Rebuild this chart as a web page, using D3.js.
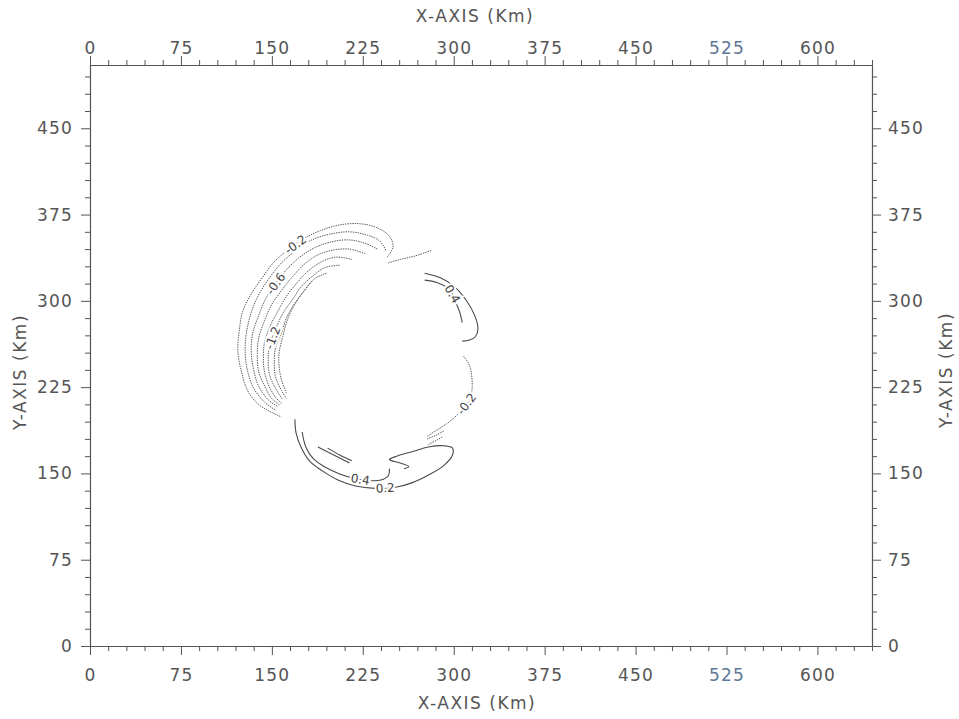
<!DOCTYPE html>
<html>
<head>
<meta charset="utf-8">
<script src="https://cdn.jsdelivr.net/npm/d3@7"></script>
<style>
  html, body { margin: 0; padding: 0; background: #fff; }
  svg { display: block; }
</style>
</head>
<body>
<svg id="chart" width="959" height="719"></svg>
<script>
// ---- model domain (km) and tick labels ----
const xExtent = [0, 645];
const yExtent = [0, 505];
const xMajorTicks = [0, 75, 150, 225, 300, 375, 450, 525, 600];
const yMajorTicks = [0, 75, 150, 225, 300, 375, 450];
const minorStep = 15;
const xTitle = "X-AXIS (Km)";
const yTitle = "Y-AXIS (Km)";

// ---- contour polylines, [x km, y km] ----
// negative field: crescent on the western side of the ring
const negLevels = [-0.2, -0.4, -0.6, -0.8, -1.0, -1.2, -1.4, -1.6];
const negC0 = [[245,338],[250,347],[247,356],[238,363],[223,367],[206,366],[190,361],[176,354],[163,344],[152,334],[142,320],[133,306],[126,291],[123,273],[122,256],[125,238],[130,222],[139,210],[150,203],[158,199]];
const negC1 = [[244,344],[239,352],[229,357],[214,360],[198,358],[183,353],[170,344],[158,333],[148,320],[139,305],[133,290],[129,272],[128,255],[130,239],[135,224],[144,212],[153,205]];
const negC2 = [[237,345],[227,350],[213,353],[198,351],[185,346],[173,338],[162,327],[153,315],[145,302],[139,287],[134,271],[133,255],[135,240],[139,226],[147,214],[155,208]];
const negC3 = [[227,341],[214,345],[200,344],[188,340],[177,332],[167,321],[158,309],[150,297],[144,283],[139,267],[138,253],[139,239],[144,226],[150,215],[157,209]];
const negC4 = [[216,336],[203,338],[191,334],[180,326],[171,316],[162,304],[155,291],[149,279],[144,264],[143,250],[144,238],[148,225],[154,215],[158,211]];
const negC5 = [[206,331],[194,329],[183,321],[174,312],[167,301],[159,289],[153,275],[148,261],[147,249],[148,236],[153,224],[159,214]];
const negC6 = [[195,324],[185,319],[177,309],[169,298],[162,285],[158,272],[153,259],[152,246],[153,234],[158,222],[162,215]];
const negC7 = [[183,317],[176,308],[169,297],[163,284],[159,269],[156,255],[156,243],[158,231],[162,220]];
const negTail = [[246,333],[256,336],[268,339],[282,344]];
// negative field: eastern fragment
const negEast = [[308,252],[313,244],[315,233],[315,222],[313,214],[308,207],[302,200],[294,193],[285,187],[278,182]];
const negEastIn1 = [[278,180],[285,183],[292,187]];
const negEastIn2 = [[279,175],[286,179],[291,182]];

// positive field
const posLevels = [0.2, 0.4, 0.6, 0.8];
const posNEOuter = [[276,324],[289,320],[301,312],[310,301],[317,288],[320,276],[318,269],[313,266],[307,265]];
const posNEInner = [[276,318],[286,316],[294,312],[299,306],[302,298],[305,290],[307,281]];
const posS02 = [[169,197],[170,185],[174,173],[181,161],[192,152],[205,144],[219,139],[235,137],[252,138],[266,142],[280,149],[292,157],[299,166],[299,172],[292,174],[279,173],[266,169],[253,165],[247,162],[256,159],[263,156],[259,154]];
const posS04 = [[175,186],[178,173],[184,163],[193,156],[205,150],[217,146],[229,144],[239,144],[246,148],[247,154]];
const posS06 = [[188,173],[201,166],[214,159]];
const posS08 = [[196,172],[206,166],[216,161]];

// each contour: level, points, and where along the vertices its label sits (null = unlabelled)
const contours = [
  { level: negLevels[0], pts: negC0, labelAt: 7.5 },
  { level: negLevels[1], pts: negC1, labelAt: null },
  { level: negLevels[2], pts: negC2, labelAt: 7 },
  { level: negLevels[3], pts: negC3, labelAt: null },
  { level: negLevels[4], pts: negC4, labelAt: null },
  { level: negLevels[5], pts: negC5, labelAt: 6.5 },
  { level: negLevels[6], pts: negC6, labelAt: null },
  { level: negLevels[7], pts: negC7, labelAt: null },
  { level: negLevels[0], pts: negTail, labelAt: null },
  { level: negLevels[0], pts: negEast, labelAt: 4.5 },
  { level: negLevels[1], pts: negEastIn1, labelAt: null },
  { level: negLevels[2], pts: negEastIn2, labelAt: null },
  { level: posLevels[0], pts: posNEOuter, labelAt: null },
  { level: posLevels[1], pts: posNEInner, labelAt: 3 },
  { level: posLevels[0], pts: posS02, labelAt: 7.5 },
  { level: posLevels[1], pts: posS04, labelAt: 5.5 },
  { level: posLevels[2], pts: posS06, labelAt: null },
  { level: posLevels[3], pts: posS08, labelAt: null }
];

// ---- layout ----
const frame = { left: 90, right: 872, top: 65, bottom: 646 };
const ink = "#555";
const font = "'DejaVu Sans', Verdana, sans-serif";

const svg = d3.select("#chart");
const x = d3.scaleLinear().domain(xExtent).range([frame.left, frame.right]);
const y = d3.scaleLinear().domain(yExtent).range([frame.bottom, frame.top]);

const xMinor = d3.range(xExtent[0], xExtent[1] + 1, minorStep).filter(v => !xMajorTicks.includes(v));
const yMinor = d3.range(yExtent[0], yExtent[1] + 1, minorStep).filter(v => !yMajorTicks.includes(v));

function styleAxis(g, isMajor) {
  g.select(".domain").attr("stroke", "#555").attr("stroke-width", 1.1);
  g.selectAll(".tick line").attr("stroke", "#555").attr("stroke-width", 1);
  g.selectAll(".tick text")
    .attr("fill", d => d === 525 ? "#5d7896" : ink)
    .style("font-family", font)
    .style("font-size", "17px")
    .style("letter-spacing", "1.2px");
  if (!isMajor) g.selectAll(".tick text").remove();
}

const axes = [
  { gen: d3.axisBottom(x), tr: `translate(0,${frame.bottom})`, maj: xMajorTicks, min: xMinor, pad: 14 },
  { gen: d3.axisTop(x),    tr: `translate(0,${frame.top})`,    maj: xMajorTicks, min: xMinor, pad: 2 },
  { gen: d3.axisLeft(y),   tr: `translate(${frame.left},0)`,   maj: yMajorTicks, min: yMinor, pad: 8 },
  { gen: d3.axisRight(y),  tr: `translate(${frame.right},0)`,  maj: yMajorTicks, min: yMinor, pad: 7 }
];
axes.forEach(a => {
  const gMin = svg.append("g").attr("transform", a.tr)
    .call(a.gen.tickValues(a.min).tickSize(5).tickSizeOuter(0).tickFormat(""));
  styleAxis(gMin, false);
  const gMaj = svg.append("g").attr("transform", a.tr)
    .call(a.gen.tickValues(a.maj).tickSize(9).tickSizeOuter(0).tickPadding(a.pad).tickFormat(d3.format("d")));
  styleAxis(gMaj, true);
});

// axis titles
const titleStyle = sel => sel
  .attr("fill", ink)
  .style("font-family", font)
  .style("font-size", "17px")
  .style("letter-spacing", "1.5px")
  .attr("text-anchor", "middle");
svg.append("text").attr("x", 475).attr("y", 22).text(xTitle).call(titleStyle);
svg.append("text").attr("x", 477).attr("y", 709).text(xTitle).call(titleStyle);
svg.append("text").attr("transform", "translate(26,372) rotate(-90)").text(yTitle).call(titleStyle);
svg.append("text").attr("transform", "translate(952,370) rotate(-90)").text(yTitle).call(titleStyle);

// ---- contour lines ----
const line = d3.line()
  .x(d => x(d[0]))
  .y(d => y(d[1]))
  .curve(d3.curveCatmullRom.alpha(0.5));

const gLines = svg.append("g").attr("fill", "none");
contours.forEach(c => {
  const p = gLines.append("path").attr("d", line(c.pts));
  if (c.level < 0) {
    p.attr("stroke", "#5a5a5a").attr("stroke-width", 1).attr("stroke-dasharray", "1.4,1");
  } else {
    p.attr("stroke", "#4a4a4a").attr("stroke-width", 1.1);
  }
});

// contour labels, laid along the line with a white break behind them
const fmt = v => (v < 0 ? "-" : "") + d3.format(".1f")(Math.abs(v));
const gLabels = svg.append("g");
contours.filter(c => c.labelAt !== null).forEach(c => {
  const P = c.pts.map(d => [x(d[0]), y(d[1])]);
  const i = Math.floor(c.labelAt), f = c.labelAt - i;
  let a, b, pos;
  if (f === 0) {
    a = P[Math.max(i - 1, 0)]; b = P[Math.min(i + 1, P.length - 1)]; pos = P[i];
  } else {
    a = P[i]; b = P[i + 1];
    pos = [a[0] + (b[0] - a[0]) * f, a[1] + (b[1] - a[1]) * f];
  }
  let ang = Math.atan2(b[1] - a[1], b[0] - a[0]) * 180 / Math.PI;
  if (ang > 90) ang -= 180;
  if (ang < -90) ang += 180;
  gLabels.append("text")
    .attr("transform", `translate(${pos[0]},${pos[1]}) rotate(${ang})`)
    .attr("text-anchor", "middle")
    .attr("dy", "0.36em")
    .attr("fill", "#444")
    .attr("stroke", "#fff")
    .attr("stroke-width", 4)
    .attr("paint-order", "stroke")
    .style("font-family", font)
    .style("font-size", "12px")
    .text(fmt(c.level));
});
</script>
</body>
</html>
